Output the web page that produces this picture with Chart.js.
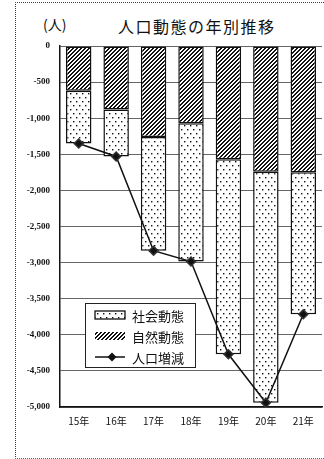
<!DOCTYPE html>
<html><head><meta charset="utf-8">
<script src="https://cdn.jsdelivr.net/npm/chart.js@4.4.0/dist/chart.umd.min.js"></script>
<style>
html,body{margin:0;padding:0;width:324px;height:459px;overflow:hidden;background:#fff;}
#wrap{position:relative;width:324px;height:459px;overflow:hidden;}
#c{position:absolute;left:0;top:0;width:328px;height:459px;}
.frame{position:absolute;left:15px;top:2px;width:330px;height:455px;border-left:1px dotted #333;border-top:1px dotted #444;border-bottom:1px dotted #666;}
.unit{position:absolute;left:43px;top:14px;font:14px "Noto Sans CJK JP";color:#111;}
.title{position:absolute;left:118px;top:14px;font:16px "Noto Sans CJK JP";letter-spacing:1.5px;color:#111;}
</style></head>
<body><div id="wrap"><div class="frame"></div><div class="unit">(人)</div><div class="title">人口動態の年別推移</div><canvas id="c" width="328" height="459"></canvas></div>
<script>
const categories = ['15年','16年','17年','18年','19年','20年','21年'];
const naturalChange = [-620, -880, -1260, -1070, -1570, -1740, -1750];
const socialChange = [-730, -650, -1575, -1915, -2700, -3200, -1965];
const totalChange = [-1350, -1530, -2835, -2985, -4270, -4940, -3715];
const seriesNames = ['社会動態', '自然動態', '人口増減'];
const yMin = -5000, yMax = 0, yStep = 500;

function dotPattern(){
  const c=document.createElement('canvas');c.width=6;c.height=8;
  const g=c.getContext('2d');g.fillStyle='#fff';g.fillRect(0,0,6,8);
  g.fillStyle='#111';g.fillRect(1,1,1.4,1.4);g.fillRect(4,5,1.4,1.4);
  return g.createPattern(c,'repeat');
}
function hatchPattern(){
  const s=4;const c=document.createElement('canvas');c.width=s;c.height=s;
  const g=c.getContext('2d');g.fillStyle='#fff';g.fillRect(0,0,s,s);
  g.fillStyle='#111';
  for(let x=0;x<s;x++)for(let y=0;y<s;y++){ if(((x+y)%s)<2) g.fillRect(x,y,1,1); }
  return g.createPattern(c,'repeat');
}
const dots = dotPattern(), hatch = hatchPattern();

const boxLegend = {
  id:'boxLegend',
  afterDraw(chart){
    const ctx=chart.ctx, a=chart.chartArea;
    const x=a.left+25, y=303, w=110, h=64;
    ctx.save();
    ctx.fillStyle='#fff';ctx.fillRect(x,y,w,h);
    ctx.strokeStyle='#222';ctx.lineWidth=1;ctx.strokeRect(x+0.5,y+0.5,w,h);
    const sx=x+10, sw=30;
    const rows=[y+12,y+33,y+54];
    ctx.fillStyle=dots;ctx.fillRect(sx,rows[0]-4,sw,8);
    ctx.lineWidth=1.3;ctx.strokeStyle='#111';ctx.strokeRect(sx,rows[0]-4,sw,8);
    ctx.fillStyle=hatch;ctx.fillRect(sx,rows[1]-4,sw,8);
    ctx.beginPath();ctx.moveTo(sx,rows[2]);ctx.lineTo(sx+sw,rows[2]);ctx.lineWidth=1.5;ctx.stroke();
    ctx.fillStyle='#111';ctx.beginPath();
    const cx=sx+sw/2+2, cy=rows[2], r=4.5;
    ctx.moveTo(cx,cy-r);ctx.lineTo(cx+r,cy);ctx.lineTo(cx,cy+r);ctx.lineTo(cx-r,cy);ctx.closePath();ctx.fill();
    ctx.fillStyle='#111';ctx.font='13px "Noto Sans CJK JP"';ctx.textBaseline='middle';ctx.textAlign='left';
    seriesNames.forEach((n,i)=>ctx.fillText(n,x+47,rows[i]+1));
    ctx.restore();
  }
};

new Chart(document.getElementById('c'),{
  data:{
    labels:categories,
    datasets:[
      {type:'bar',label:seriesNames[1],data:naturalChange,backgroundColor:hatch,borderColor:'#111',borderWidth:1.5,borderSkipped:false,stack:'bars',order:1,barPercentage:0.68,categoryPercentage:1},
      {type:'bar',label:seriesNames[0],data:socialChange,backgroundColor:dots,borderColor:'#111',borderWidth:1.5,borderSkipped:false,stack:'bars',order:1,barPercentage:0.68,categoryPercentage:1},
      {type:'line',label:seriesNames[2],data:totalChange,borderColor:'#111',borderWidth:1.5,pointStyle:'rectRot',pointRadius:4.5,pointBackgroundColor:'#111',pointBorderColor:'#333',stack:'total',order:0,tension:0}
    ]
  },
  options:{
    responsive:false,animation:false,
    layout:{padding:{left:0,top:46,right:2,bottom:27}},
    plugins:{legend:{display:false},tooltip:{enabled:false},title:{display:false}},
    scales:{
      x:{stacked:true,offset:true,
        grid:{display:false,drawTicks:false},
        border:{display:true,color:'#111',width:1.5},
        ticks:{color:'#111',font:{family:'"Noto Sans CJK JP"',size:10},padding:8,maxRotation:0,autoSkip:false},
        afterFit:s=>{s.height=25;}
      },
      y:{stacked:true,min:yMin,max:yMax,
        grid:{color:'#666',lineWidth:1,drawTicks:false},
        border:{display:true,color:'#111',width:1.5},
        ticks:{stepSize:yStep,color:'#111',padding:10,font:{family:'"Liberation Serif"',size:9,weight:'bold'},
          callback:v=>v.toLocaleString('en-US')},
        afterFit:s=>{s.width=60;}
      }
    }
  },
  plugins:[boxLegend]
});
</script>
</body></html>
